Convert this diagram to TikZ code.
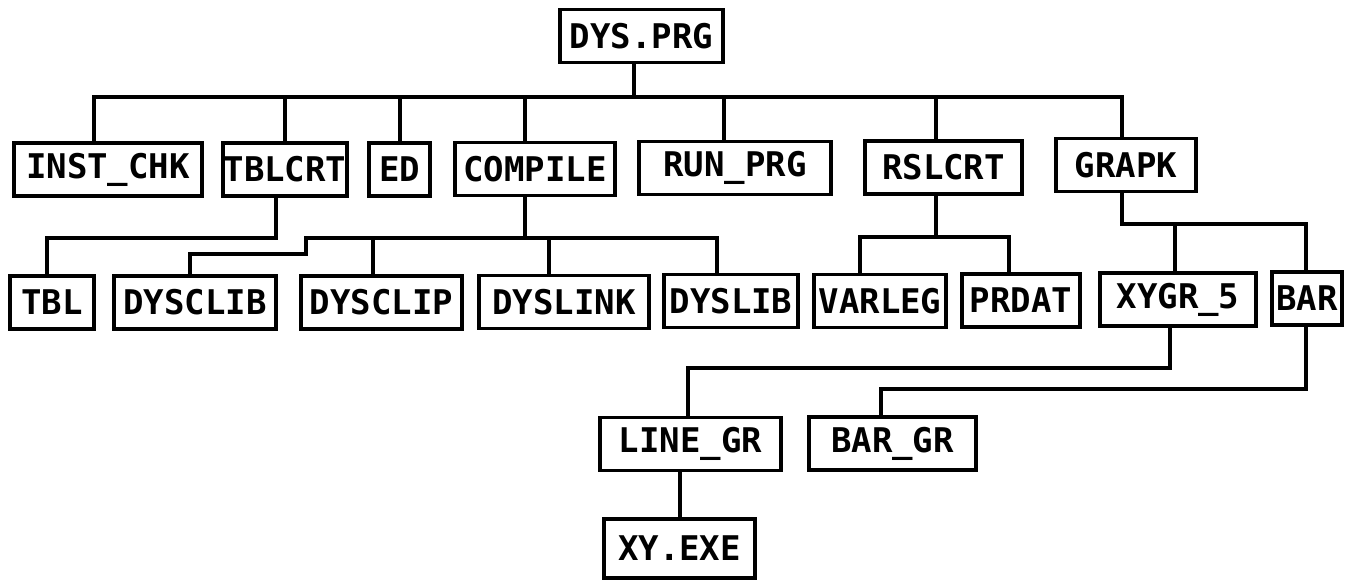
\documentclass[tikz,border=0pt]{standalone}
\usepackage{fontspec}
\newfontfamily\dotfont{DejaVu Sans Mono}
\begin{document}
\begin{tikzpicture}[x=1pt,y=-1pt,
  box/.style={draw=black, line width=3.2pt, inner sep=0pt, fill=white,
    font=\dotfont\bfseries\fontsize{34}{34}\selectfont, minimum height=53pt},
  wire/.style={draw=black, line width=3.2pt, line cap=rect}]
\useasboundingbox (0,0) rectangle (1349,582);
% nodes
\node[box, minimum width=163pt] (dys) at (641.5,36) {DYS.PRG};
\node[box, minimum width=188pt] (inst) at (108,169.5) {INST\_CHK};
\node[box, minimum width=124pt] (tblcrt) at (285,169.5) {TBLCRT};
\node[box, minimum width=61pt] (ed) at (399.5,169.5) {ED};
\node[box, minimum width=160pt] (compile) at (535,169) {COMPILE};
\node[box, minimum width=192pt] (runprg) at (735,168) {RUN\_PRG};
\node[box, minimum width=157pt] (rslcrt) at (943.5,167.5) {RSLCRT};
\node[box, minimum width=140pt] (grapk) at (1126,165) {GRAPK};
\node[box, minimum width=84pt] (tbl) at (52,302.5) {TBL};
\node[box, minimum width=162pt] (dysclib) at (195,302.5) {DYSCLIB};
\node[box, minimum width=161pt] (dysclip) at (381.5,302.5) {DYSCLIP};
\node[box, minimum width=170pt] (dyslink) at (564,302) {DYSLINK};
\node[box, minimum width=134pt] (dyslib) at (731,301) {DYSLIB};
\node[box, minimum width=132pt] (varleg) at (880,301) {VARLEG};
\node[box, minimum width=118pt] (prdat) at (1021,300.5) {PRDAT};
\node[box, minimum width=156pt] (xygr) at (1178,299.5) {XYGR\_5};
\node[box, minimum width=70pt] (bar) at (1307,298.5) {BAR};
\node[box, minimum width=181pt] (linegr) at (690.5,444) {LINE\_GR};
\node[box, minimum width=167pt] (bargr) at (892.5,443.5) {BAR\_GR};
\node[box, minimum width=151pt, minimum height=59pt] (xyexe) at (679.5,548.5) {XY.EXE};
% top bus
\coordinate (b0) at (634,97);
\coordinate (bL) at (94,97);
\coordinate (bR) at (1122,97);
\coordinate (b2) at (285,97);
\coordinate (b3) at (400,97);
\coordinate (b4) at (525,97);
\coordinate (b5) at (724,97);
\coordinate (b6) at (936,97);
\draw[wire] (b0 |- dys.south) -- (b0);
\draw[wire] (bL) -- (bR);
\draw[wire] (bL) -- (bL |- inst.north);
\draw[wire] (b2) -- (b2 |- tblcrt.north);
\draw[wire] (b3) -- (b3 |- ed.north);
\draw[wire] (b4) -- (b4 |- compile.north);
\draw[wire] (b5) -- (b5 |- runprg.north);
\draw[wire] (b6) -- (b6 |- rslcrt.north);
\draw[wire] (bR) -- (bR |- grapk.north);
% TBLCRT -> TBL
\coordinate (t1) at (276,238);
\coordinate (t2) at (47,238);
\draw[wire] (t1 |- tblcrt.south) -- (t1) -- (t2) -- (t2 |- tbl.north);
% COMPILE bus
\coordinate (c0) at (525,238);
\coordinate (cL) at (306,238);
\coordinate (cS) at (306,254);
\coordinate (c1) at (190,254);
\coordinate (c2) at (373,238);
\coordinate (c3) at (549,238);
\coordinate (cR) at (717,238);
\draw[wire] (c0 |- compile.south) -- (c0);
\draw[wire] (cR) -- (cL) -- (cS) -- (c1) -- (c1 |- dysclib.north);
\draw[wire] (c2) -- (c2 |- dysclip.north);
\draw[wire] (c3) -- (c3 |- dyslink.north);
\draw[wire] (cR) -- (cR |- dyslib.north);
% RSLCRT
\coordinate (r0) at (936,237);
\coordinate (r1) at (860,237);
\coordinate (r2) at (1009,237);
\draw[wire] (r0 |- rslcrt.south) -- (r0);
\draw[wire] (r1 |- varleg.north) -- (r1) -- (r2) -- (r2 |- prdat.north);
% GRAPK
\coordinate (g0) at (1122,224);
\coordinate (g1) at (1175,224);
\coordinate (g2) at (1306,224);
\draw[wire] (g0 |- grapk.south) -- (g0) -- (g2) -- (g2 |- bar.north);
\draw[wire] (g1) -- (g1 |- xygr.north);
% XYGR_5 -> LINE_GR
\coordinate (x0) at (1170,368);
\coordinate (x1) at (688,368);
\draw[wire] (x0 |- xygr.south) -- (x0) -- (x1) -- (x1 |- linegr.north);
% BAR -> BAR_GR
\coordinate (y0) at (1306,389);
\coordinate (y1) at (881,389);
\draw[wire] (y0 |- bar.south) -- (y0) -- (y1) -- (y1 |- bargr.north);
% LINE_GR -> XY.EXE
\coordinate (l0) at (680,490);
\draw[wire] (l0 |- linegr.south) -- (l0 |- xyexe.north);
\end{tikzpicture}
\end{document}
